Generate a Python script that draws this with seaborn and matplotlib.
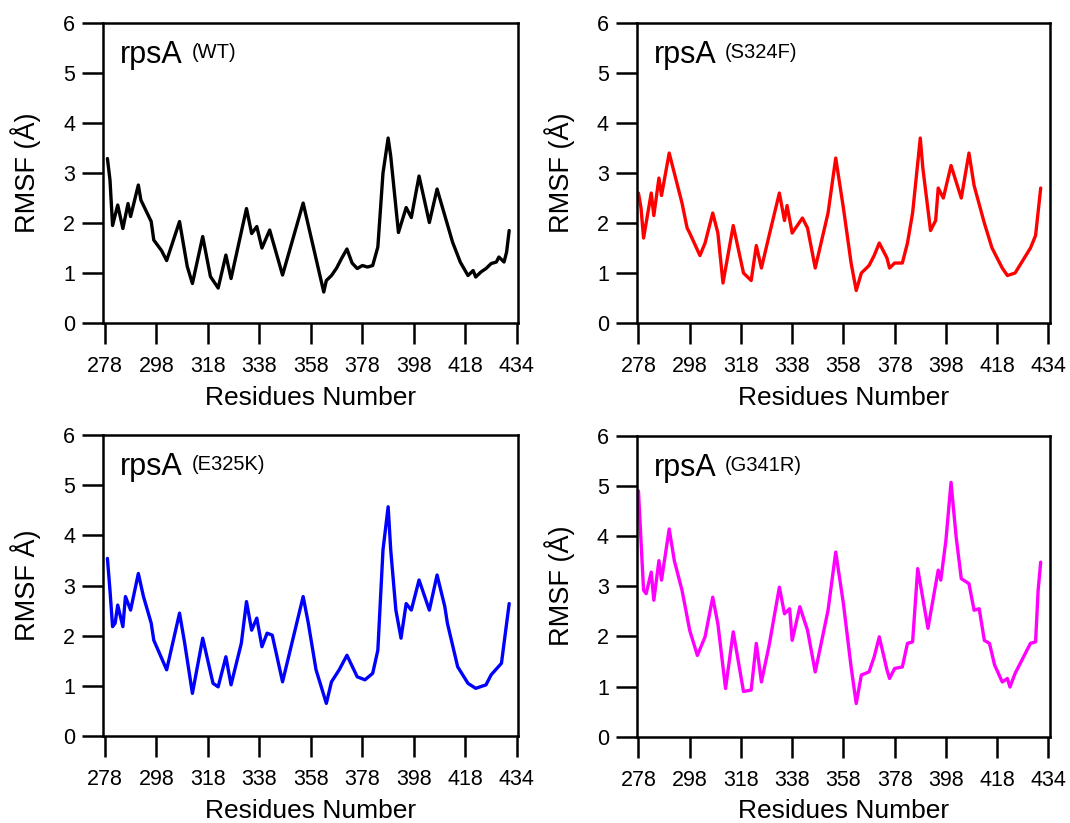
import matplotlib
matplotlib.use("Agg")
import matplotlib.pyplot as plt
import pandas as pd
import seaborn as sns

# RMSF per residue
wt_res = [279, 280, 281, 283, 285, 287, 288, 291, 292, 296, 297, 300, 302, 307, 310, 312, 316, 319, 322,
          325, 327, 333, 335, 337, 339, 342, 347, 355, 363, 364, 366, 368, 370, 372, 374, 376, 378, 380,
          382, 384, 386, 388, 389, 392, 395, 397, 400, 404, 407, 410, 413, 416, 419, 421, 422, 424, 426,
          428, 430, 431, 433, 434, 435]
wt_rmsf = [3.29, 2.86, 1.95, 2.36, 1.89, 2.39, 2.13, 2.76, 2.46, 2.03, 1.66, 1.45, 1.25, 2.03, 1.13, 0.79,
           1.73, 0.93, 0.70, 1.36, 0.89, 2.29, 1.79, 1.93, 1.50, 1.86, 0.96, 2.40, 0.62, 0.85, 0.95, 1.10,
           1.30, 1.48, 1.20, 1.09, 1.15, 1.12, 1.15, 1.52, 3.00, 3.70, 3.34, 1.81, 2.31, 2.11, 2.94, 2.01,
           2.68, 2.15, 1.62, 1.22, 0.95, 1.05, 0.92, 1.02, 1.09, 1.19, 1.22, 1.32, 1.22, 1.42, 1.85]

s324f_res = [278, 279, 280, 283, 284, 286, 287, 290, 293, 295, 297, 298, 302, 304, 307, 309, 311, 315, 319,
             322, 324, 326, 329, 333, 335, 336, 338, 342, 344, 347, 352, 355, 358, 361, 363, 365, 368, 370,
             372, 375, 376, 378, 381, 383, 385, 388, 389, 392, 394, 395, 397, 400, 404, 407, 409, 413, 416,
             420, 422, 425, 428, 431, 433, 435]
s324f_rmsf = [2.60, 2.30, 1.70, 2.60, 2.15, 2.90, 2.55, 3.40, 2.80, 2.40, 1.90, 1.80, 1.35, 1.60, 2.20, 1.80,
              0.80, 1.95, 1.00, 0.85, 1.55, 1.10, 1.75, 2.60, 2.05, 2.35, 1.80, 2.10, 1.90, 1.10, 2.20, 3.30,
              2.30, 1.20, 0.65, 1.00, 1.15, 1.35, 1.60, 1.30, 1.10, 1.20, 1.20, 1.60, 2.20, 3.70, 3.10, 1.85,
              2.05, 2.70, 2.50, 3.15, 2.50, 3.40, 2.75, 2.00, 1.50, 1.10, 0.95, 1.00, 1.25, 1.50, 1.75, 2.70]

e325k_res = [279, 280, 281, 282, 283, 285, 286, 288, 291, 293, 296, 297, 302, 307, 309, 312, 316, 320, 322,
             325, 327, 331, 333, 335, 337, 339, 341, 343, 347, 355, 357, 360, 364, 366, 369, 372, 376, 379,
             382, 384, 386, 388, 389, 391, 393, 395, 397, 400, 404, 407, 410, 411, 415, 419, 422, 426, 428,
             432, 433, 435]
e325k_rmsf = [3.54, 2.90, 2.18, 2.25, 2.61, 2.18, 2.78, 2.51, 3.24, 2.78, 2.25, 1.91, 1.32, 2.45, 1.85, 0.85,
              1.95, 1.05, 0.98, 1.58, 1.02, 1.85, 2.68, 2.11, 2.35, 1.78, 2.05, 2.01, 1.08, 2.78, 2.25, 1.32,
              0.65, 1.08, 1.32, 1.61, 1.18, 1.12, 1.25, 1.71, 3.71, 4.57, 3.71, 2.51, 1.95, 2.64, 2.51, 3.11,
              2.51, 3.21, 2.58, 2.25, 1.38, 1.05, 0.95, 1.02, 1.22, 1.45, 1.85, 2.64]

g341r_res = [278, 279, 280, 281, 283, 284, 286, 287, 290, 292, 295, 297, 298, 301, 304, 307, 309, 312, 315,
             319, 322, 324, 326, 329, 333, 335, 337, 338, 341, 344, 347, 352, 355, 358, 361, 363, 365, 368,
             370, 372, 375, 376, 378, 381, 383, 385, 387, 391, 395, 396, 398, 400, 402, 404, 407, 409, 411,
             413, 415, 417, 420, 422, 423, 425, 428, 431, 433, 434, 435]
g341r_rmsf = [4.90, 3.90, 2.92, 2.85, 3.28, 2.72, 3.51, 3.12, 4.14, 3.51, 2.92, 2.39, 2.12, 1.62, 1.99, 2.78,
              2.25, 0.96, 2.09, 0.90, 0.93, 1.86, 1.09, 1.82, 2.98, 2.45, 2.55, 1.92, 2.59, 2.12, 1.29, 2.52,
              3.68, 2.65, 1.39, 0.66, 1.23, 1.29, 1.59, 1.99, 1.33, 1.16, 1.36, 1.39, 1.86, 1.89, 3.35, 2.16,
              3.32, 3.12, 3.91, 5.07, 3.98, 3.15, 3.05, 2.52, 2.55, 1.92, 1.86, 1.43, 1.09, 1.16, 0.99, 1.26,
              1.56, 1.86, 1.89, 2.92, 3.48]

x_ticks = [278, 298, 318, 338, 358, 378, 398, 418, 438]
x_tick_labels = ["278", "298", "318", "338", "358", "378", "398", "418", "434"]
y_ticks = [0, 1, 2, 3, 4, 5, 6]

panels = [
    ("(WT)", wt_res, wt_rmsf, "black", "RMSF (Å)"),
    ("(S324F)", s324f_res, s324f_rmsf, "#ff0000", "RMSF (Å)"),
    ("(E325K)", e325k_res, e325k_rmsf, "#0000ff", "RMSF Å)"),
    ("(G341R)", g341r_res, g341r_rmsf, "#ff00ff", "RMSF (Å)"),
]
positions = [
    [0.0963, 0.6075, 0.388, 0.3645],
    [0.5950, 0.6075, 0.386, 0.3645],
    [0.0963, 0.1057, 0.388, 0.3657],
    [0.5950, 0.1049, 0.386, 0.3657],
]

sns.set_style("ticks", {"axes.edgecolor": "black", "xtick.color": "black", "ytick.color": "black",
                        "text.color": "black", "axes.labelcolor": "black"})
plt.rcParams["font.family"] = ["Liberation Sans", "DejaVu Sans"]

fig = plt.figure(figsize=(10.7, 8.23), dpi=100)

for (tag, res, rmsf, color, ylab), pos in zip(panels, positions):
    ax = fig.add_axes(pos)
    df = pd.DataFrame({"res": res, "rmsf": rmsf})
    sns.lineplot(data=df, x="res", y="rmsf", color=color, linewidth=2.4, ax=ax)
    ax.set_xlim(277.3, 438.5)
    ax.set_ylim(0, 6)
    ax.set_xticks(x_ticks)
    ax.set_xticklabels(x_tick_labels)
    ax.set_yticks(y_ticks)
    ax.tick_params(axis="x", direction="out", length=15, width=1.8, labelsize=15.5, pad=9)
    ax.tick_params(axis="y", direction="out", length=15, width=1.8, labelsize=15.5, pad=5)
    for sp in ax.spines.values():
        sp.set_linewidth(1.8)
    ax.set_xlabel("Residues Number", fontsize=19, labelpad=6)
    ax.set_ylabel(ylab, fontsize=19.5, labelpad=16)
    ax.text(0.041, 0.867, "rpsA", transform=ax.transAxes, fontsize=22, va="baseline")
    ax.text(0.2145, 0.883, tag, transform=ax.transAxes, fontsize=14.5, va="baseline")

fig.savefig("out.png", dpi=100)
